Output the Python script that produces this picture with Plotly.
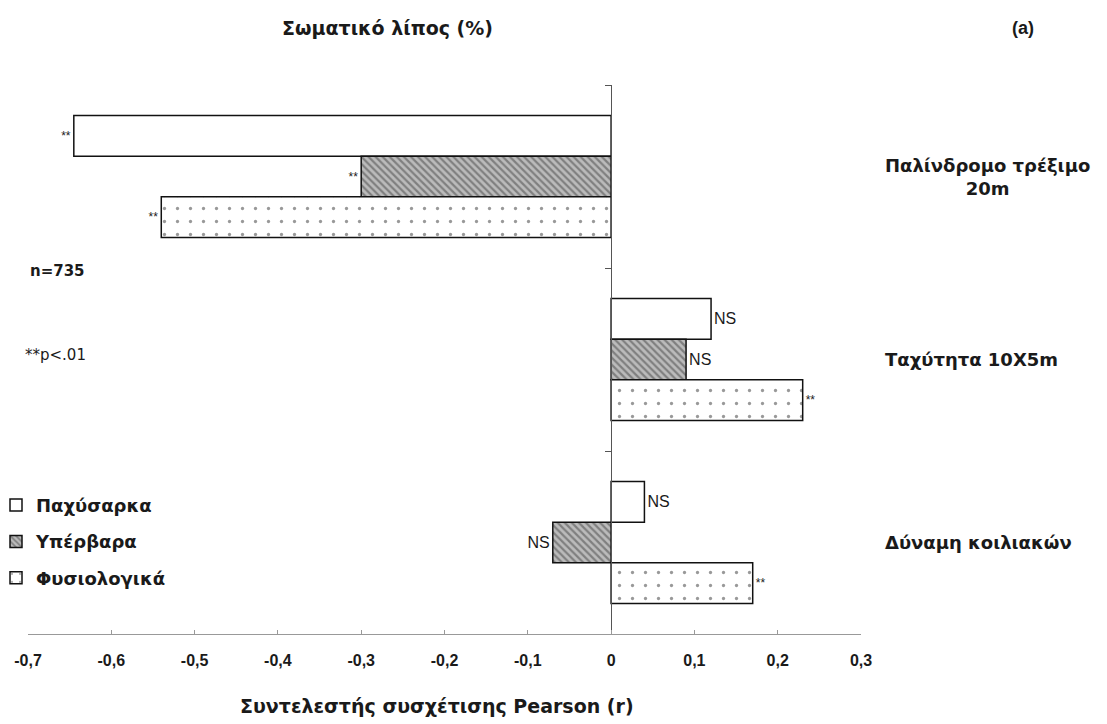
import plotly.graph_objects as go

# ---- data ----
categories = ["Παλίνδρομο τρέξιμο 20m", "Ταχύτητα 10X5m", "Δύναμη κοιλιακών"]
category_labels = ["Παλίνδρομο τρέξιμο<br>20m", "Ταχύτητα 10X5m", "Δύναμη κοιλιακών"]
series_names = ["Παχύσαρκα", "Υπέρβαρα", "Φυσιολογικά"]
obese_r = [-0.645, 0.12, 0.04]
overweight_r = [-0.30, 0.09, -0.07]
normal_r = [-0.54, 0.23, 0.17]
obese_sig = ["**", "NS", "NS"]
overweight_sig = ["**", "NS", "NS"]
normal_sig = ["**", "**", "**"]
tick_values = [-0.7, -0.6, -0.5, -0.4, -0.3, -0.2, -0.1, 0, 0.1, 0.2, 0.3]
tick_labels = ["-0,7", "-0,6", "-0,5", "-0,4", "-0,3", "-0,2", "-0,1", "0", "0,1", "0,2", "0,3"]

FONT = "Liberation Sans, Arial, sans-serif"
WIDE = "DejaVu Sans, Verdana, sans-serif"
TXT = "#1a1a1a"

styles = [
    dict(color="white", pattern=None),
    dict(color="white", pattern=dict(shape="\\", fgcolor="#444", bgcolor="#bbb", size=5, solidity=0.45)),
    dict(color="white", pattern=dict(shape=".", fgcolor="#333", bgcolor="white", size=13, solidity=0.05)),
]

fig = go.Figure()
for name, vals, sig, st in zip(series_names, [obese_r, overweight_r, normal_r],
                               [obese_sig, overweight_sig, normal_sig], styles):
    marker = dict(color=st["color"], line=dict(color="#111", width=1.5))
    if st["pattern"]:
        marker["pattern"] = st["pattern"]
    fig.add_trace(go.Bar(
        y=categories, x=vals, orientation="h", name=name, legendgroup=name,
        marker=marker, text=sig, textposition="outside", cliponaxis=False,
        textfont=dict(family=FONT, color=TXT, size=[12 if s == "**" else 16 for s in sig]),
        hoverinfo="skip",
    ))

# the page body adds an 8px margin, so the figure is 8px smaller on each axis
PL, PW, PB, PH = 28, 833, 634, 549   # plot area on screen: left, width, bottom, height
fig.update_layout(
    width=1099, height=716,
    margin=dict(l=PL - 8, r=1099 - (PL - 8) - PW, t=77, b=90, autoexpand=False),
    paper_bgcolor="white", plot_bgcolor="white",
    barmode="group", bargap=0.333, bargroupgap=0,
    font=dict(family=FONT, color=TXT),
    showlegend=True,
    legend=dict(x=(-4 - PL) / PW, y=0.268, xanchor="left", yanchor="top",
                font=dict(family=WIDE, size=18, color=TXT, weight="bold"),
                tracegroupgap=10, traceorder="grouped", itemwidth=30,
                bgcolor="rgba(0,0,0,0)"),
    xaxis=dict(range=[-0.7, 0.3], tickvals=tick_values, ticktext=tick_labels,
               showgrid=False, zeroline=False, showline=True, linecolor="#999",
               linewidth=1, ticks="inside", ticklen=4, tickcolor="#999",
               tickfont=dict(family=FONT, size=16, color=TXT, weight="bold"), ticklabelstandoff=12),
    yaxis=dict(type="category", categoryorder="array", categoryarray=categories,
               range=[2.5, -0.5], anchor="free", position=0.7,
               showline=True, linecolor="#555", linewidth=1,
               ticks="outside", tickson="boundaries", ticklen=6, tickcolor="#555",
               showticklabels=False, showgrid=False, zeroline=False),
)

for cat, lab in zip(categories, category_labels):
    fig.add_annotation(x=(883 - PL) / PW, xref="paper", xanchor="left", yanchor="middle",
                       y=cat, yref="y", text=lab, showarrow=False, align="center",
                       font=dict(family=WIDE, size=18, color=TXT, weight="bold"))

def note(px_x, px_y, text, size, bold=True, family=WIDE, xanchor="center"):
    fig.add_annotation(x=(px_x - PL) / PW, xref="paper", xanchor=xanchor,
                       y=(PB - px_y) / PH, yref="paper", yanchor="middle",
                       text=f"<b>{text}</b>" if bold else text, showarrow=False,
                       font=dict(family=family, size=size, color=TXT))

note(387, 28, "Σωματικό λίπος (%)", 19)
note(1023, 28, "(a)", 18, family=FONT)
note(437, 706, "Συντελεστής συσχέτισης Pearson (r)", 19)
note(28, 271, "n=735", 15, xanchor="left")
note(23, 355, "**p<.01", 15, bold=False, xanchor="left")

fig.write_html("out.html")
